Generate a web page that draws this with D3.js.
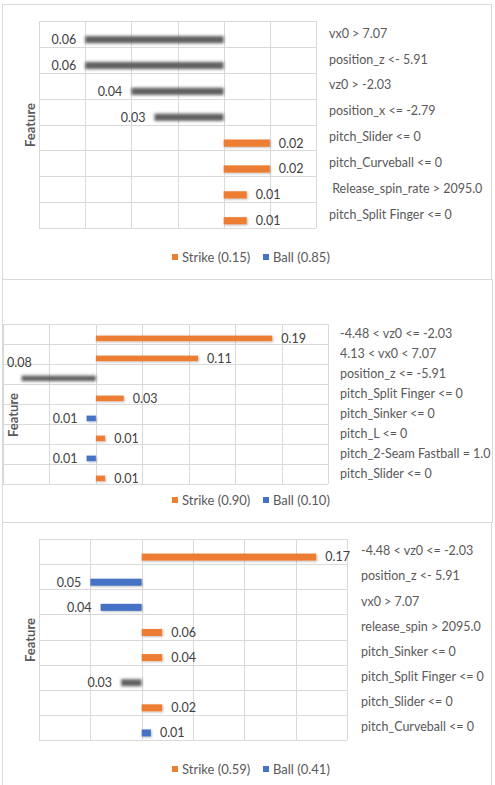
<!DOCTYPE html>
<html>
<head>
<meta charset="utf-8">
<script src="https://cdn.jsdelivr.net/npm/d3@7"></script>
<style>
    body { margin: 0; background: #ffffff; }
    svg { display: block; font-family: Lato, Carlito, Calibri, sans-serif; }
    .grid { stroke: #d9d9d9; stroke-width: 1; shape-rendering: crispEdges; }
    .frame { fill: none; stroke: #d9d9d9; stroke-width: 1; shape-rendering: crispEdges; }
    .value-label { fill: #404040; font-size: 12.5px; }
    .feature-label { fill: #595959; font-size: 12.5px; white-space: pre; }
    .legend-label { fill: #595959; font-size: 13px; }
    .axis-title { fill: #595959; font-size: 13px; font-weight: bold; }
</style>
</head>
<body>
<svg width="495" height="785"></svg>
<script>
// Panel 1 data.
var panel1Features = ["vx0 > 7.07", "position_z <- 5.91", "vz0 > -2.03", "position_x <= -2.79",
    "pitch_Slider <= 0", "pitch_Curveball <= 0", " Release_spin_rate > 2095.0", "pitch_Split Finger <= 0"];
var panel1Values = [-0.06, -0.06, -0.04, -0.03, 0.02, 0.02, 0.01, 0.01];
var panel1Labels = ["0.06", "0.06", "0.04", "0.03", "0.02", "0.02", "0.01", "0.01"];
var panel1Series = ["shadow", "shadow", "shadow", "shadow", "strike", "strike", "strike", "strike"];
var panel1Legend = ["Strike (0.15)", "Ball (0.85)"];
var panel1Domain = [-0.08, 0.04];
var panel1Ticks = [-0.08, -0.06, -0.04, -0.02, 0, 0.02, 0.04];

// Panel 2 data.
var panel2Features = ["-4.48 < vz0 <= -2.03", "4.13 < vx0 < 7.07", "position_z <= -5.91", "pitch_Split Finger <= 0",
    "pitch_Sinker <= 0", "pitch_L <= 0", "pitch_2-Seam Fastball = 1.0", "pitch_Slider <= 0"];
var panel2Values = [0.19, 0.11, -0.08, 0.03, -0.01, 0.01, -0.01, 0.01];
var panel2Labels = ["0.19", "0.11", "0.08", "0.03", "0.01", "0.01", "0.01", "0.01"];
var panel2Series = ["strike", "strike", "shadow", "strike", "ball", "strike", "ball", "strike"];
var panel2Legend = ["Strike (0.90)", "Ball (0.10)"];
var panel2Domain = [-0.1, 0.25];
var panel2Ticks = [-0.1, -0.05, 0, 0.05, 0.1, 0.15, 0.2, 0.25];

// Panel 3 data. The bar lengths in the picture do not all agree with their labels.
var panel3Features = ["-4.48 < vz0 <= -2.03", "position_z <- 5.91", "vx0 > 7.07", "release_spin > 2095.0",
    "pitch_Sinker <= 0", "pitch_Split Finger <= 0", "pitch_Slider <= 0", "pitch_Curveball <= 0"];
var panel3Values = [0.17, -0.05, -0.04, 0.02, 0.02, -0.02, 0.02, 0.009];
var panel3Labels = ["0.17", "0.05", "0.04", "0.06", "0.04", "0.03", "0.02", "0.01"];
var panel3Series = ["strike", "ball", "ball", "strike", "strike", "shadow", "strike", "ball"];
var panel3Legend = ["Strike (0.59)", "Ball (0.41)"];
var panel3Domain = [-0.1, 0.2];
var panel3Ticks = [-0.1, -0.05, 0, 0.05, 0.1, 0.15, 0.2];

var COLORS = { strike: "#ed7d31", ball: "#4472c4", shadow: "#606060" };

var svg = d3.select("svg");
var defs = svg.append("defs");

// Excel-like soft shadow for the coloured bars.
var soft = defs.append("filter").attr("id", "soft")
    .attr("x", "-20%").attr("y", "-60%").attr("width", "140%").attr("height", "220%");
soft.append("feDropShadow")
    .attr("dx", 1).attr("dy", 1).attr("stdDeviation", 0.8)
    .attr("flood-color", "#000").attr("flood-opacity", 0.25);

// The grey bars are only a blurred shadow.
var blur = defs.append("filter").attr("id", "blur")
    .attr("x", "-10%").attr("y", "-100%").attr("width", "120%").attr("height", "300%");
blur.append("feGaussianBlur").attr("stdDeviation", 1.5);

class FeaturePanel {
    constructor(opts) {
        this.opts = opts;
    }

    init() {
        var o = this.opts;
        var g = svg.append("g");

        // Outer box.
        g.append("rect").attr("class", "frame")
            .attr("x", o.box[0] + 0.5).attr("y", o.box[1] + 0.5)
            .attr("width", o.box[2] - o.box[0]).attr("height", o.box[3] - o.box[1]);

        var x = d3.scaleLinear().domain(o.domain).range([o.plot[0], o.plot[2]]);
        var y = d3.scaleBand().domain(o.features).range([o.plot[1], o.plot[3]]);

        // Vertical gridlines from the tick values.
        g.selectAll("line.vgrid").data(o.ticks).join("line")
            .attr("class", "grid vgrid")
            .attr("x1", function(d) { return Math.round(x(d)) + 0.5; })
            .attr("x2", function(d) { return Math.round(x(d)) + 0.5; })
            .attr("y1", o.plot[1]).attr("y2", o.plot[3]);

        // Horizontal gridlines at each category boundary.
        var edges = o.features.map(function(f) { return y(f); }).concat([o.plot[3]]);
        g.selectAll("line.hgrid").data(edges).join("line")
            .attr("class", "grid hgrid")
            .attr("x1", o.plot[0]).attr("x2", o.plot[2])
            .attr("y1", function(d) { return Math.round(d) + 0.5; })
            .attr("y2", function(d) { return Math.round(d) + 0.5; });

        var bw = y.bandwidth();
        var barH = bw * 0.28;
        var rows = o.features.map(function(f, i) {
            return { feature: f, value: o.values[i], label: o.labels[i], series: o.series[i] };
        });
        var centre = function(d) { return y(d.feature) + bw * 0.72; };

        g.selectAll("rect.bar").data(rows).join("rect")
            .attr("class", "bar")
            .attr("x", function(d) { return Math.min(x(0), x(d.value)); })
            .attr("width", function(d) { return Math.abs(x(d.value) - x(0)); })
            .attr("y", function(d) { return centre(d) - barH / 2; })
            .attr("height", barH)
            .attr("fill", function(d) { return COLORS[d.series]; })
            .attr("filter", function(d) { return d.series == "shadow" ? "url(#blur)" : "url(#soft)"; });

        // Value labels: outside the bar end, or above the bar if they would leave the plot.
        var GAP = 9;
        g.selectAll("text.value-label").data(rows).join("text")
            .attr("class", "value-label")
            .attr("dy", "0.35em")
            .text(function(d) { return d.label; })
            .each(function(d) {
                var t = d3.select(this);
                var cy = centre(d);
                if (d.value >= 0) {
                    t.attr("x", x(d.value) + GAP).attr("y", cy).attr("text-anchor", "start");
                    return;
                }
                var w = this.getComputedTextLength();
                if (x(d.value) - GAP - w < o.plot[0]) {
                    t.attr("x", o.plot[0] + 4).attr("y", cy - 16).attr("text-anchor", "start");
                } else {
                    t.attr("x", x(d.value) - GAP).attr("y", cy).attr("text-anchor", "end");
                }
            });

        // Feature names to the right of the plot.
        g.selectAll("text.feature-label").data(o.features).join("text")
            .attr("class", "feature-label")
            .attr("x", o.featureX)
            .attr("y", function(f) { return y(f) + bw / 2; })
            .attr("dy", "0.3em")
            .text(function(f) { return f; });

        // Axis title.
        g.append("text").attr("class", "axis-title")
            .attr("transform", "translate(" + o.titleAt[0] + "," + o.titleAt[1] + ") rotate(-90)")
            .attr("text-anchor", "middle")
            .attr("dy", "0.35em")
            .text("Feature");

        // Legend.
        var legendItems = [
            { name: o.legend[0], color: COLORS.strike, x: 172 },
            { name: o.legend[1], color: COLORS.ball, x: 263 }
        ];
        var lg = g.selectAll("g.legend").data(legendItems).join("g").attr("class", "legend");
        lg.append("rect")
            .attr("x", function(d) { return d.x; })
            .attr("y", o.legendY - 3)
            .attr("width", 6).attr("height", 6)
            .attr("fill", function(d) { return d.color; });
        lg.append("text").attr("class", "legend-label")
            .attr("x", function(d) { return d.x + 10; })
            .attr("y", o.legendY)
            .attr("dy", "0.35em")
            .text(function(d) { return d.name; });
    }
}

new FeaturePanel({
    features: panel1Features, values: panel1Values, labels: panel1Labels, series: panel1Series,
    legend: panel1Legend, domain: panel1Domain, ticks: panel1Ticks,
    box: [2, 4, 491, 279], plot: [39, 21, 316, 228], featureX: 329, titleAt: [30, 125], legendY: 257
}).init();

new FeaturePanel({
    features: panel2Features, values: panel2Values, labels: panel2Labels, series: panel2Series,
    legend: panel2Legend, domain: panel2Domain, ticks: panel2Ticks,
    box: [2, 279, 492, 522], plot: [3, 324, 328, 484], featureX: 340, titleAt: [13, 415], legendY: 500
}).init();

new FeaturePanel({
    features: panel3Features, values: panel3Values, labels: panel3Labels, series: panel3Series,
    legend: panel3Legend, domain: panel3Domain, ticks: panel3Ticks,
    box: [2, 522, 491, 792], plot: [39, 539, 347, 740], featureX: 361, titleAt: [30, 640], legendY: 769
}).init();
</script>
</body>
</html>
